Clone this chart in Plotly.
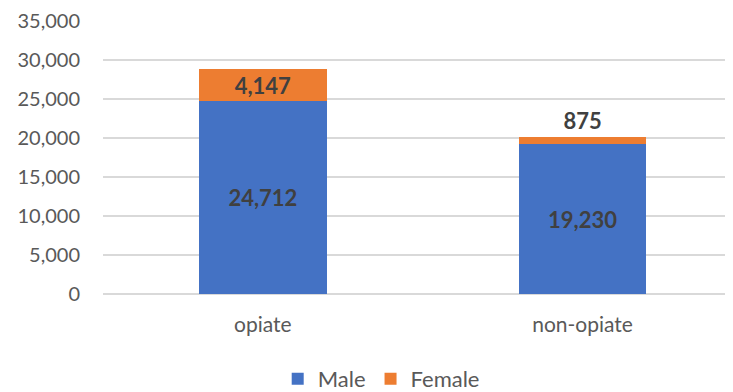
import plotly.graph_objects as go

# Data
categories = ['opiate', 'non-opiate']
male = [24712, 19230]
female = [4147, 875]

BLUE = '#4472C4'
ORANGE = '#ED7D31'
FONT = 'Lato, "Open Sans", sans-serif'

fig = go.Figure()

fig.add_trace(go.Bar(
    name='Male',
    x=categories,
    y=male,
    width=0.4,
    marker=dict(color=BLUE, line=dict(width=0)),
    text=[f'{v:,}' for v in male],
    textposition='inside',
    insidetextanchor='middle',
    textangle=0,
    constraintext='none',
    textfont=dict(family=FONT, size=22, color='#404040', weight='bold'),
))

fig.add_trace(go.Bar(
    name='Female',
    x=categories,
    y=female,
    width=0.4,
    marker=dict(color=ORANGE, line=dict(width=0)),
    text=[f'{v:,}' for v in female],
    textposition=['inside', 'outside'],
    insidetextanchor='middle',
    textangle=0,
    constraintext='none',
    cliponaxis=False,
    textfont=dict(family=FONT, size=22, color='#404040', weight='bold'),
))

# page body has an 8px default margin, so the figure is shifted to fit inside it
fig.update_layout(
    barmode='stack',
    width=725,
    height=384,
    margin=dict(l=95, r=0, t=8, b=98),
    paper_bgcolor='white',
    plot_bgcolor='white',
    font=dict(family=FONT, color='#595959', size=20),
    showlegend=True,
    legend=dict(
        orientation='h',
        x=0.372, xref='container', xanchor='left',
        y=0.034, yref='container', yanchor='middle',
        font=dict(size=22, color='#595959'),
        itemwidth=30,
        traceorder='normal',
    ),
)

fig.update_xaxes(
    range=[-0.5, 1.4706],
    showgrid=False,
    showline=False,
    ticks='',
    tickfont=dict(size=21, color='#595959'),
    ticklabelstandoff=16,
)

fig.update_yaxes(
    range=[0, 35000],
    dtick=5000,
    tickformat=',',
    showgrid=True,
    gridcolor='#D9D9D9',
    gridwidth=1.5,
    zeroline=True,
    zerolinecolor='#D9D9D9',
    zerolinewidth=1.5,
    showline=False,
    ticks='',
    ticklabelstandoff=22,
    ticklabeloverflow='allow',
    tickfont=dict(size=20, color='#595959'),
)

fig.write_html('out.html')
